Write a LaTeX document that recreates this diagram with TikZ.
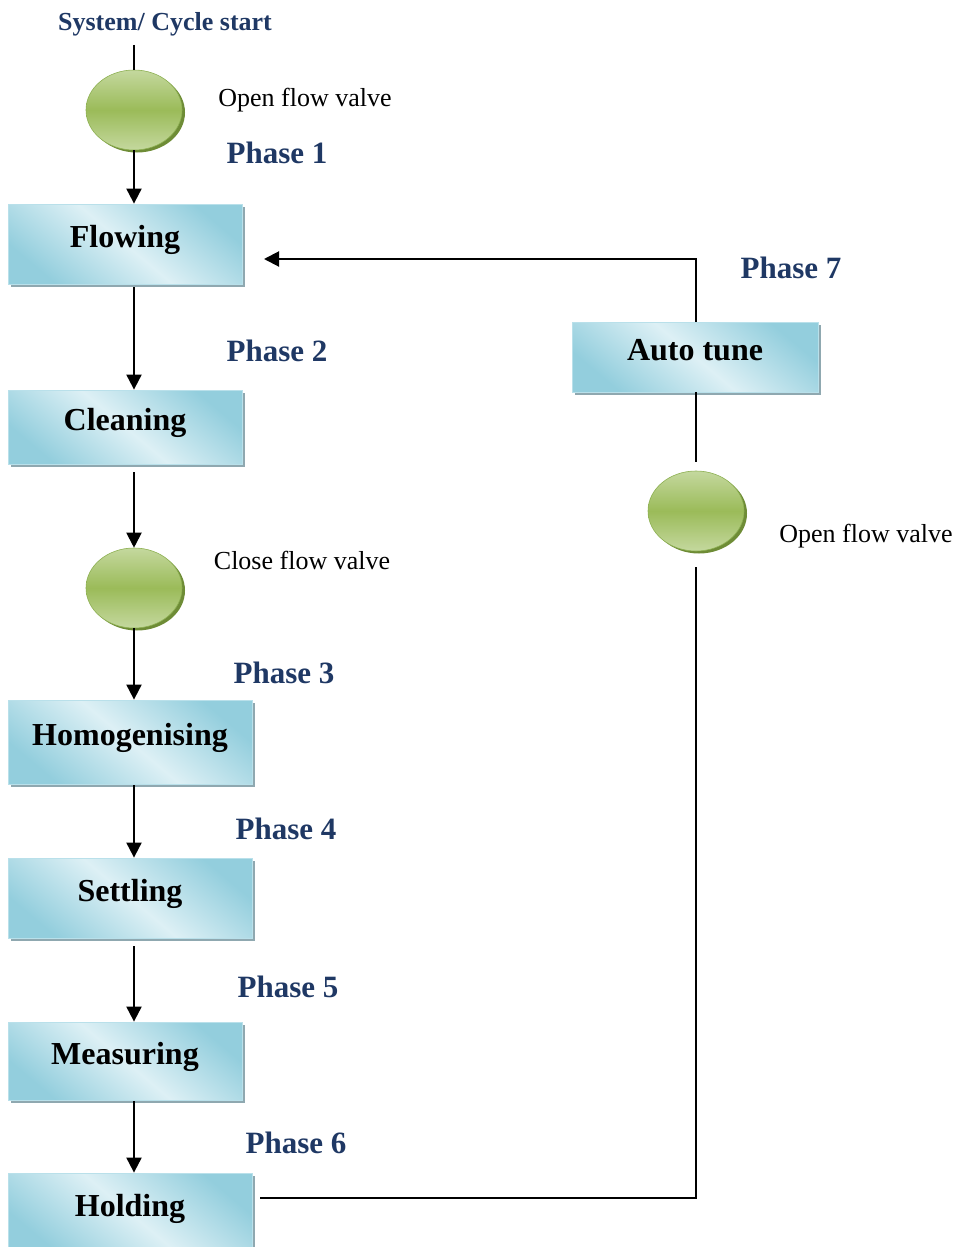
\documentclass[tikz,border=0pt]{standalone}
\usepackage{fontspec}
\setmainfont{Liberation Serif}
\usetikzlibrary{arrows.meta,shadows,shapes.geometric}
\definecolor{phaseblue}{HTML}{1F3864}
\definecolor{boxlight}{HTML}{DDF0F5}
\definecolor{boxdark}{HTML}{93CEDD}
\definecolor{boxline}{HTML}{B9E0EA}
\definecolor{boxshadow}{HTML}{8FA8B0}
\definecolor{valvemid}{HTML}{9BBB59}
\definecolor{valvelight}{HTML}{C4D89E}
\definecolor{valveline}{HTML}{8DB052}
\definecolor{valveshadow}{HTML}{6E8C36}
\begin{document}
\begin{tikzpicture}[x=1pt,y=-1pt,
  box/.style={rectangle, draw=boxline, line width=0.8pt,
    top color=boxdark, bottom color=boxdark, middle color=boxlight, shading angle=-40,
    font=\bfseries\fontsize{32}{36}\selectfont, text height=22pt, text depth=16pt, inner sep=0pt,
    general shadow={fill=boxshadow, shadow xshift=3pt, shadow yshift=-3pt}},
  valve/.style={ellipse, minimum width=96pt, minimum height=80pt, inner sep=0pt,
    draw=valveline, line width=0.6pt,
    top color=valvelight, bottom color=valvelight, middle color=valvemid,
    general shadow={fill=valveshadow, shadow xshift=3pt, shadow yshift=-2.5pt}},
  phase/.style={anchor=base, font=\bfseries\fontsize{31}{36}\selectfont, text=phaseblue, inner sep=0pt},
  note/.style={anchor=base, font=\fontsize{26}{30}\selectfont, inner sep=0pt},
  conn/.style={line width=2pt},
  arr/.style={line width=2pt, -{Triangle[length=15pt,width=15pt]}}
]
\useasboundingbox (0,0) rectangle (958,1247);

% nodes
\node[box, minimum width=234pt, minimum height=80pt] (flow) at (125,244) {Flowing};
\node[box, minimum width=234pt, minimum height=74pt] (clean) at (125,427) {Cleaning};
\node[box, minimum width=244pt, minimum height=84pt] (homog) at (130,742) {Homogenising};
\node[box, minimum width=244pt, minimum height=80pt] (settle) at (130,898) {Settling};
\node[box, minimum width=234pt, minimum height=78pt] (meas) at (125,1061) {Measuring};
\node[box, minimum width=244pt, minimum height=80pt] (hold) at (130,1213) {Holding};
\node[box, minimum width=246pt, minimum height=70pt] (auto) at (695,357) {Auto tune};

\node[valve] (v1) at (134,110) {};
\node[valve] (v2) at (134,588) {};
\node[valve] (v3) at (696,511) {};

% labels
\node[anchor=base, font=\bfseries\fontsize{26}{30}\selectfont, text=phaseblue, inner sep=0pt] (sys) at (165,31) {System/ Cycle start};
\node[note] (ofv1) at (305,106) {Open flow valve};
\node[note] (cfv) at (302,569) {Close flow valve};
\node[note] (ofv2) at (866,542) {Open flow valve};
\node[phase] (p1) at (277,163) {Phase 1};
\node[phase] (p2) at (277,361) {Phase 2};
\node[phase] (p3) at (284,683) {Phase 3};
\node[phase] (p4) at (286,839) {Phase 4};
\node[phase] (p5) at (288,997) {Phase 5};
\node[phase] (p6) at (296,1153) {Phase 6};
\node[phase] (p7) at (791,278) {Phase 7};

% coordinates for free ends
\coordinate (start) at (134,45);
\coordinate (hr) at (260,1198);
\coordinate (fl) at (264,259);

% connectors
\draw[conn] (start) -- (v1.north);
\draw[arr] (v1.south) -- (v1.south |- flow.north);
\draw[arr, shorten <=3pt] (v1.south |- flow.south) -- (v1.south |- clean.north);
\draw[arr, shorten <=8pt] (v2.north |- clean.south) -- (v2.north);
\draw[arr] (v2.south) -- (v2.south |- homog.north);
\draw[arr, shorten <=1pt] (v2.south |- homog.south) -- (v2.south |- settle.north);
\draw[arr, shorten <=8pt] (v2.south |- settle.south) -- (v2.south |- meas.north);
\draw[arr, shorten <=1pt] (v2.south |- meas.south) -- (v2.south |- hold.north);
\draw[conn, shorten >=16pt] (hr) -| (v3.south);
\draw[conn, shorten >=9pt] (auto.south -| v3.north) -- (v3.north);
\draw[arr] (auto.north -| v3.north) |- (fl);
\end{tikzpicture}
\end{document}
